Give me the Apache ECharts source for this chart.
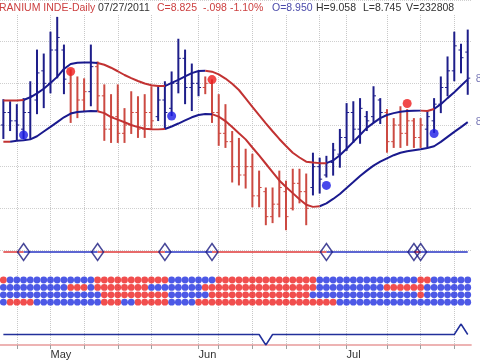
<!DOCTYPE html>
<html><head><meta charset="utf-8">
<script src="https://cdn.jsdelivr.net/npm/echarts@6/dist/echarts.min.js"></script>
<style>html,body{margin:0;padding:0;background:#fff}#c{width:480px;height:360px}</style>
</head><body><div id="c"></div>
<script>
// ---------- data ----------
const dates = [
 '04-21','04-22','04-25','04-26','04-27','04-28','04-29',
 '05-02','05-03','05-04','05-05','05-06','05-09','05-10','05-11','05-12','05-13','05-16','05-17','05-18','05-19','05-20','05-23','05-24','05-25','05-26','05-27','05-30','05-31',
 '06-01','06-02','06-03','06-06','06-07','06-08','06-09','06-10','06-13','06-14','06-15','06-16','06-17','06-20','06-21','06-22','06-23','06-24','06-27','06-28','06-29','06-30',
 '07-01','07-04','07-05','07-06','07-07','07-08','07-11','07-12','07-13','07-14','07-15','07-18','07-19','07-20','07-21','07-22','07-25','07-26','07-27'];
const tickDates = ['04-25','05-02','05-09','05-16','05-23','06-01','06-06','06-13','06-20','06-27','07-01','07-11','07-18','07-25'];
const monthLabels = {'05-02':'May','06-01':'Jun','07-01':'Jul'};

const high = [8.724,8.714,8.700,8.729,8.810,8.962,8.943,9.048,9.119,8.986,
 8.867,8.833,8.824,8.986,8.905,8.795,8.748,8.795,8.681,8.762,
 8.738,8.748,8.786,8.786,8.810,8.857,9.014,8.962,8.895,8.857,
 8.833,8.819,8.748,8.700,8.571,8.538,8.486,8.462,8.381,8.300,
 8.300,8.381,8.333,8.390,8.390,8.367,8.467,8.443,8.452,8.514,
 8.581,8.705,8.714,8.729,8.667,8.786,8.729,8.676,8.633,8.690,
 8.676,8.633,8.633,8.667,8.729,8.833,8.929,9.048,8.990,9.058];
const low = [8.533,8.571,8.524,8.533,8.533,8.652,8.681,8.752,8.824,8.748,
 8.610,8.633,8.667,8.690,8.667,8.524,8.514,8.514,8.514,8.557,
 8.538,8.538,8.581,8.619,8.581,8.643,8.752,8.700,8.667,8.738,
 8.748,8.610,8.500,8.490,8.324,8.310,8.295,8.205,8.205,8.119,
 8.129,8.157,8.095,8.190,8.224,8.119,8.262,8.271,8.348,8.357,
 8.395,8.476,8.514,8.510,8.571,8.610,8.605,8.467,8.490,8.490,
 8.500,8.490,8.490,8.490,8.562,8.657,8.738,8.810,8.848,8.745];
const open = [8.60,8.66,8.62,8.58,8.66,8.72,8.86,8.80,8.96,8.96,
 8.80,8.66,8.72,8.76,8.88,8.74,8.58,8.64,8.56,8.60,
 8.66,8.58,8.66,8.64,8.72,8.68,8.80,8.92,8.78,8.80,
 8.78,8.80,8.66,8.56,8.52,8.40,8.36,8.40,8.26,8.28,
 8.16,8.22,8.28,8.20,8.32,8.28,8.30,8.40,8.36,8.42,
 8.46,8.54,8.66,8.58,8.64,8.64,8.72,8.66,8.52,8.60,
 8.56,8.62,8.54,8.58,8.62,8.70,8.78,8.86,8.96,8.950];
const close = [8.66,8.62,8.60,8.66,8.74,8.85,8.80,8.96,9.02,8.82,
 8.66,8.72,8.76,8.88,8.74,8.58,8.64,8.56,8.60,8.66,
 8.58,8.66,8.62,8.72,8.66,8.80,8.92,8.78,8.80,8.78,
 8.80,8.66,8.56,8.52,8.40,8.36,8.40,8.26,8.30,8.16,
 8.22,8.30,8.16,8.32,8.28,8.20,8.40,8.34,8.42,8.48,
 8.54,8.66,8.58,8.68,8.62,8.74,8.66,8.52,8.60,8.56,
 8.62,8.54,8.60,8.64,8.70,8.78,8.86,8.98,8.923,8.825];
const volume = 232808;
const upper = [8.718,8.718,8.718,8.720,8.733,8.752,8.774,8.802,8.831,8.869,
 8.893,8.899,8.900,8.900,8.898,8.889,8.875,8.858,8.840,8.825,
 8.811,8.799,8.791,8.787,8.787,8.802,8.817,8.833,8.849,8.859,
 8.860,8.856,8.843,8.823,8.798,8.768,8.728,8.687,8.647,8.608,
 8.570,8.533,8.499,8.467,8.444,8.424,8.420,8.417,8.417,8.430,
 8.455,8.486,8.519,8.552,8.586,8.610,8.633,8.648,8.657,8.664,
 8.667,8.668,8.669,8.667,8.677,8.700,8.729,8.757,8.788,8.819];
const lower = [8.520,8.520,8.524,8.527,8.531,8.546,8.569,8.591,8.614,8.637,
 8.655,8.662,8.665,8.667,8.666,8.657,8.638,8.626,8.613,8.600,
 8.590,8.582,8.580,8.579,8.581,8.593,8.607,8.622,8.637,8.648,
 8.653,8.652,8.640,8.619,8.590,8.560,8.531,8.492,8.454,8.414,
 8.374,8.334,8.302,8.273,8.244,8.217,8.207,8.210,8.224,8.245,
 8.269,8.298,8.326,8.355,8.381,8.405,8.424,8.440,8.455,8.467,
 8.474,8.479,8.484,8.490,8.498,8.519,8.543,8.567,8.590,8.614];
// colour runs (b = blue, r = red)
const barRuns = [['b',10],['r',3],['b',1],['r',9],['b',7],['r',16],['b',11],['r',6],['b',7]];
const upperFlips = [3,14,24,30.5,48,62,64];   // starts red
const lowerFlips = [1,14,24,31,47];           // starts red
const diamondIdx = [3,14,24,31,48,61,62];     // trend line flips at each diamond, starts red
const redSignals = [[10,8.857],[31,8.818],[60,8.703]];
const blueSignals = [[3,8.552],[25,8.643],[48,8.310],[64,8.559]];
const matrixRuns = [
 [['r',1],['b',13],['r',11],['b',7],['r',15],['b',15],['r',2],['b',6]],
 [['b',10],['r',3],['b',1],['r',8],['b',8],['r',17],['b',10],['r',6],['b',7]],
 [['b',15],['r',10],['b',6],['r',15],['b',16],['r',1],['b',7]],
 [['b',1],['r',4],['b',10],['r',3],['b',2],['r',5],['b',4],['r',21],['b',20]]
];
const triggerDown = [39];
const triggerUp = [68];

// ---------- helpers ----------
const runs = l => l.map(([c,n]) => c.repeat(n)).join('');
const BAR_BLUE='#1e1e8a', BAR_RED='#cc4a42', LINE_BLUE='#1a1a8e', LINE_RED='#c23232';
// split a line into red / blue parts; segment k (k -> k+1) is red when an even number of flips lie before k+0.5
function split(vals, flips){
  const segRed = vals.map((v,k)=> flips.filter(f=>f<=k+0.5).length%2===0);
  const red = vals.map((v,i)=> ((i>0&&segRed[i-1])||(i<vals.length-1&&segRed[i]))?v:null);
  const blue = vals.map((v,i)=> ((i>0&&!segRed[i-1])||(i<vals.length-1&&!segRed[i]))?v:null);
  return {red, blue};
}
const barTrend = runs(barRuns);
const barData = dates.map((d,i)=>[i,open[i],close[i],low[i],high[i],barTrend[i]==='r'?1:0]);
const mRed=[], mBlue=[];
matrixRuns.forEach((r,ri)=>{ runs(r).split('').forEach((c,i)=>{ (c==='r'?mRed:mBlue).push([i,ri+1]); }); });
const rowLine = dates.map(()=>0);
const trigger = dates.map((d,i)=> triggerDown.includes(i)?-1:(triggerUp.includes(i)?1:0));
const tickSet = new Set(tickDates);
const up = split(upper, upperFlips), lo = split(lower, lowerFlips), row = split(rowLine, diamondIdx);

const L=-2.4, R=8.9;
const hiddenX = g => ({type:'category',gridIndex:g,data:dates,boundaryGap:true,
  axisLine:{show:false},axisTick:{show:false},axisLabel:{show:false},splitLine:{show:false}});
const hiddenY = (g,min,max,inv) => ({type:'value',gridIndex:g,min:min,max:max,inverse:!!inv,
  axisLine:{show:false},axisTick:{show:false},axisLabel:{show:false},splitLine:{show:false}});

const n=close.length-1, chg=close[n]-close[n-1];
const hdr = [
 ['RANIUM INDE-Daily',-1,'#cc4040'],
 ['07/27/2011',98,'#333333'],
 ['C='+close[n].toFixed(3),157,'#cc4040'],
 [chg.toFixed(3).replace('0.','.'),203,'#cc4040'],
 [(chg/close[n-1]*100).toFixed(2)+'%',230,'#cc4040'],
 ['O='+open[n].toFixed(3),272,'#4a4aaa'],
 ['H='+high[n].toFixed(3),316,'#333333'],
 ['L='+low[n].toFixed(3),363,'#333333'],
 ['V='+volume,406,'#333333']
];
const endLbl = {show:true,formatter:p=>Number(p.value).toFixed(3),color:'#7c7cb8',fontSize:11,distance:8,fontFamily:'Liberation Sans'};
const bandLine = (data,color,lbl) => ({type:'line',xAxisIndex:0,yAxisIndex:0,data:data,showSymbol:false,z:3,
  connectNulls:false,lineStyle:{width:2,color:color},itemStyle:{color:color},endLabel:lbl?endLbl:{show:false}});

const chart = echarts.init(document.getElementById('c'));
chart.setOption({
 animation:false,
 backgroundColor:'#fff',
 grid:[
  {left:L,right:R,top:-2,height:252},
  {left:L,right:R,top:240,height:24},
  {left:L,right:R,top:276.3,height:29.6},
  {left:L,right:R,top:324,height:22},
  {left:L,right:R,top:14,height:332}
 ],
 xAxis:[hiddenX(0),hiddenX(1),hiddenX(2),
  {type:'category',gridIndex:3,data:dates,boundaryGap:true,
   axisLine:{show:true,onZero:false,lineStyle:{color:'#e89a9a',width:1.5}},
   axisTick:{show:true,alignWithLabel:true,length:4,interval:(i,v)=>tickSet.has(v),lineStyle:{color:'#a0a0a0'}},
   axisLabel:{show:true,interval:(i,v)=>v in monthLabels,formatter:v=>monthLabels[v]||'',align:'left',
     color:'#333',fontSize:11,margin:4,fontFamily:'Liberation Sans'},
   splitLine:{show:false}},
  hiddenX(4)],
 yAxis:[
  {type:'value',gridIndex:0,min:8.0,max:9.2,interval:0.2,position:'right',
   axisLine:{show:false},axisTick:{show:false},axisLabel:{show:false},
   splitLine:{show:true,lineStyle:{color:'#cfcfcf',type:'dotted',width:1}}},
  hiddenY(1,-1,1),hiddenY(2,0.5,4.5,true),hiddenY(3,-1,1),hiddenY(4,0,1)
 ],
 graphic: hdr.map(([t,x,c])=>({type:'text',x:x,y:8,z:100,
   style:{text:t,fill:c,font:'10.5px "Liberation Sans", Arial',verticalAlign:'middle'}})),
 series:[
  {type:'line',xAxisIndex:4,yAxisIndex:4,data:[],silent:true,z:0,
   markLine:{silent:true,z:0,symbol:'none',label:{show:false},animation:false,
     lineStyle:{color:'#c8c8c8',type:'dotted',width:1},data:tickDates.map(d=>({xAxis:d}))}},
  {type:'custom',xAxisIndex:0,yAxisIndex:0,data:barData,encode:{x:0,y:[1,2,3,4]},z:2,
   renderItem:(p,api)=>{
     const i=api.value(0),o=api.value(1),c=api.value(2),l=api.value(3),h=api.value(4);
     const col=api.value(5)?BAR_RED:BAR_BLUE;
     const pH=api.coord([i,h]),pL=api.coord([i,l]),pO=api.coord([i,o]),pC=api.coord([i,c]);
     return {type:'group',children:[
      {type:'line',shape:{x1:pH[0],y1:pH[1],x2:pL[0],y2:pL[1]},style:{stroke:col,lineWidth:2}},
      {type:'line',shape:{x1:pO[0]-2.5,y1:pO[1],x2:pO[0],y2:pO[1]},style:{stroke:col,lineWidth:1}},
      {type:'line',shape:{x1:pC[0],y1:pC[1],x2:pC[0]+2.5,y2:pC[1]},style:{stroke:col,lineWidth:1}}
     ]};
   }},
  bandLine(up.blue,LINE_BLUE,true),
  bandLine(up.red,LINE_RED,false),
  bandLine(lo.blue,LINE_BLUE,true),
  bandLine(lo.red,LINE_RED,false),
  {type:'scatter',xAxisIndex:0,yAxisIndex:0,data:redSignals,symbolSize:9,z:4,itemStyle:{color:'#ee1c1c'}},
  {type:'scatter',xAxisIndex:0,yAxisIndex:0,data:blueSignals,symbolSize:9,z:4,itemStyle:{color:'#1c1ce6'}},
  {type:'line',xAxisIndex:1,yAxisIndex:1,data:row.blue,showSymbol:false,z:2,lineStyle:{width:1.5,color:'#2834c4'}},
  {type:'line',xAxisIndex:1,yAxisIndex:1,data:row.red,showSymbol:false,z:2,lineStyle:{width:1.5,color:'#e03a3a'}},
  {type:'scatter',xAxisIndex:1,yAxisIndex:1,data:diamondIdx.map(i=>[i,0]),symbol:'diamond',symbolSize:[12,17],z:3,
   itemStyle:{color:'rgba(0,0,0,0)',borderColor:'#1a1a80',borderWidth:1.5}},
  {type:'scatter',xAxisIndex:2,yAxisIndex:2,data:mRed,symbolSize:6.8,z:2,itemStyle:{color:'#ee2222'}},
  {type:'scatter',xAxisIndex:2,yAxisIndex:2,data:mBlue,symbolSize:6.8,z:2,itemStyle:{color:'#2030e0'}},
  {type:'line',xAxisIndex:3,yAxisIndex:3,data:trigger,showSymbol:false,z:2,lineStyle:{width:1.5,color:'#22309a'}}
 ]
});
</script></body></html>
